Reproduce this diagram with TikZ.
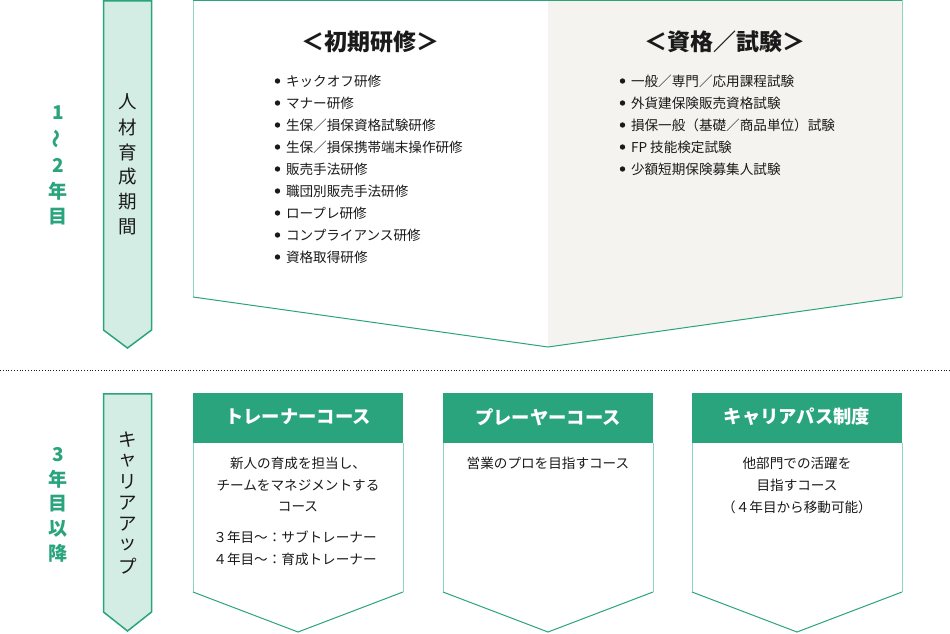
\documentclass[tikz,border=0pt]{standalone}
\usepackage{fontspec}
\setmainfont{Noto Sans CJK JP}
\definecolor{grn}{HTML}{2AA47D}
\definecolor{lgrn}{HTML}{8FD4BD}
\definecolor{afill}{HTML}{D4EDE4}
\definecolor{gfill}{HTML}{F4F3EF}
\definecolor{txt}{HTML}{1A1A1A}
\begin{document}
\begin{tikzpicture}[x=1pt,y=-1pt,
  every node/.style={inner sep=0pt, outer sep=0pt, text=txt},
  vchar/.style={font=\fontsize{18.5}{18}\selectfont, anchor=center},
  gchar/.style={font=\fontsize{19}{18}\selectfont\bfseries, text=grn, anchor=center},
  listitem/.style={font=\fontsize{13.6}{16}\selectfont, anchor=west},
  titletext/.style={font=\fontsize{23}{24}\selectfont\bfseries, anchor=center},
  headtext/.style={font=\fontsize{18.3}{20}\selectfont\bfseries, text=white, anchor=center},
  bodytext/.style={font=\fontsize{13.6}{16}\selectfont, anchor=center},
  arrowshape/.style={draw=grn, line width=1.5pt, fill=afill, line join=miter},
  bul/.style={fill=txt}
]
\useasboundingbox (0,0) rectangle (950,633);

% dotted separator
\draw[txt, line width=0.8pt, dotted] (0,370) -- (950,370);

% left arrows
\draw[arrowshape] (103.5,0.75) -- (151.5,0.75) -- (151.5,330) -- (127.5,348) -- (103.5,330) -- cycle;
\draw[arrowshape] (103.5,393.75) -- (151.5,393.75) -- (151.5,612) -- (127.5,631) -- (103.5,612) -- cycle;

% vertical texts in arrows
\foreach \c [count=\i] in {人,材,育,成,期,間}
  \node[vchar] (ja\i) at (128, 77+25*\i) {\c};
\foreach \c [count=\i] in {キ,ャ,リ,ア,ア,ッ,プ}
  \node[vchar] (jb\i) at (128, 419+21*\i) {\c};

% green period labels
\node[gchar] (ga1) at (58,113) {1};
\node[gchar, rotate=90] (ga2) at (58,139) {～};
\node[gchar] (ga3) at (58,165) {2};
\node[gchar] (ga4) at (58,191) {年};
\node[gchar] (ga5) at (58,217) {目};
\foreach \c [count=\i] in {3,年,目,以,降}
  \node[gchar] (gb\i) at (58, 430.5+24.5*\i) {\c};

% top pentagon
\fill[white] (193,0) -- (548,0) -- (548,347) -- (193,297) -- cycle;
\fill[gfill] (548,0) -- (902,0) -- (902,297) -- (548,347) -- cycle;
\draw[lgrn, line width=1pt] (193,0) -- (193,297);
\draw[lgrn, line width=1pt] (902,0) -- (902,297);
\draw[grn, line width=1pt] (193,0.5) -- (902,0.5);
\draw[grn, line width=1pt] (193,297) -- (548,347) -- (902,297);

% titles
\node[titletext] (t1) at (370,42) {＜初期研修＞};
\node[titletext] (t2) at (725,42) {＜資格／試験＞};

% left list
\foreach \t [count=\i] in {キックオフ研修,マナー研修,生保／損保資格試験研修,生保／損保携帯端末操作研修,販売手法研修,職団別販売手法研修,ロープレ研修,コンプライアンス研修,資格取得研修}{
  \fill[bul] (277.5, 59+22*\i) circle (2.7);
  \node[listitem] (la\i) at (286, 59+22*\i) {\t};
}
% right list
\foreach \t [count=\i] in {一般／専門／応用課程試験,外貨建保険販売資格試験,損保一般（基礎／商品単位）試験,FP 技能検定試験,少額短期保険募集人試験}{
  \fill[bul] (622.5, 59+22*\i) circle (2.7);
  \node[listitem] (lb\i) at (631, 59+22*\i) {\t};
}

% bottom course boxes
\foreach \x/\n in {193/1,443/2,692/3}{
  \fill[white] (\x,443) -- (\x+210,443) -- (\x+210,592) -- (\x+105,632) -- (\x,592) -- cycle;
  \fill[grn] (\x,393) rectangle (\x+210,443);
  \draw[lgrn, line width=1pt] (\x,443) -- (\x,592);
  \draw[lgrn, line width=1pt] (\x+210,443) -- (\x+210,592);
  \draw[grn, line width=1pt] (\x,592) -- (\x+105,632) -- (\x+210,592);
}
\node[headtext] (h1) at (298,417) {トレーナーコース};
\node[headtext] (h2) at (548,417) {プレーヤーコース};
\node[headtext] (h3) at (797,417) {キャリアパス制度};

\node[bodytext] (b11) at (298,463) {新人の育成を担当し、};
\node[bodytext] (b12) at (298,485) {チームをマネジメントする};
\node[bodytext] (b13) at (298,507) {コース};
\node[bodytext] (b14) at (295,537) {３年目～：サブトレーナー};
\node[bodytext] (b15) at (295,559) {４年目～：育成トレーナー};

\node[bodytext] (b21) at (548,463) {営業のプロを目指すコース};

\node[bodytext] (b31) at (797,463) {他部門での活躍を};
\node[bodytext] (b32) at (797,485) {目指すコース};
\node[bodytext] (b33) at (797,507) {（４年目から移動可能）};
\end{tikzpicture}
\end{document}
